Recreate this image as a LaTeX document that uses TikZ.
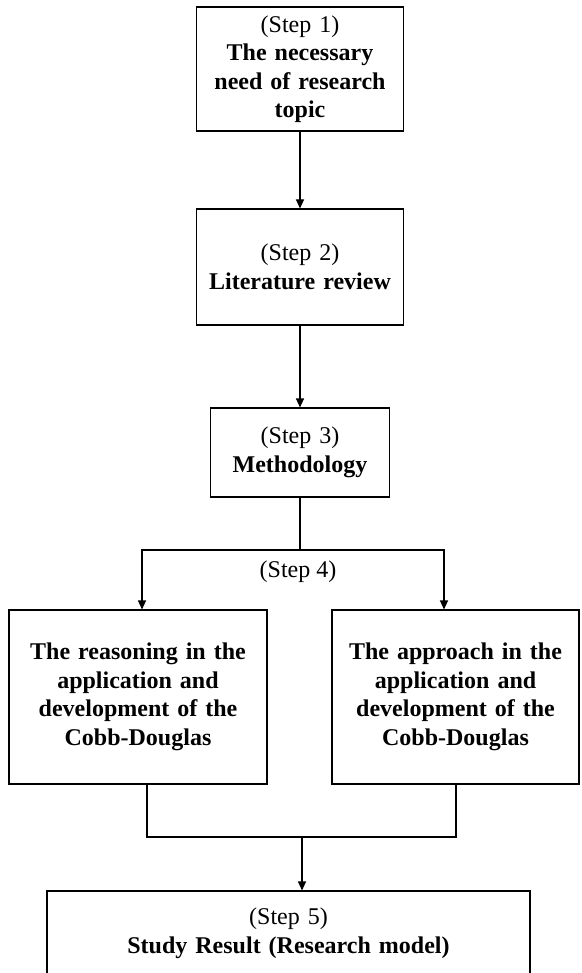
\documentclass[tikz,border=0pt]{standalone}
\usepackage{fontspec}
\setmainfont{Liberation Serif}
\usetikzlibrary{arrows.meta}

\begin{document}
\begin{tikzpicture}[x=1pt, y=-1pt,
    stepbox/.style={draw, line width=1.1pt, align=center, inner sep=0pt,
        font=\fontsize{24}{28.5}\selectfont},
    flow/.style={line width=1.1pt, -{Triangle[length=9pt,width=8pt]}},
    twoway/.style={line width=1.1pt, {Triangle[length=9pt,width=8pt]}-{Triangle[length=9pt,width=8pt]}},
    link/.style={line width=1.1pt}]
    \useasboundingbox (0,0) rectangle (581,973);

    % Draw the step boxes
    \node[stepbox, minimum width=207pt, minimum height=124pt, text width=200pt] (topic) at (300,69)
        {(Step 1)\\ \bfseries The necessary\\ need of research\\ topic};
    \node[stepbox, minimum width=207pt, minimum height=116pt, text width=200pt] (review) at (300,267)
        {(Step 2)\\ \bfseries Literature review};
    \node[stepbox, minimum width=179pt, minimum height=89pt, text width=172pt] (method) at (300,452.5)
        {(Step 3)\\ \bfseries Methodology};

    % Step 4 has two boxes side by side
    \node[font=\fontsize{24}{28.5}\selectfont, inner sep=0pt] (stepfour) at (298,572) {(Step 4)};
    \node[stepbox, minimum width=258pt, minimum height=174pt, text width=250pt] (reasoning) at (138,697)
        {\bfseries The reasoning in the\\ application and\\ development of the\\ Cobb-Douglas};
    \node[stepbox, minimum width=247pt, minimum height=174pt, text width=240pt] (approach) at (455.5,697)
        {\bfseries The approach in the\\ application and\\ development of the\\ Cobb-Douglas};

    % Last box runs past the bottom edge
    \node[stepbox, minimum width=483pt, minimum height=85pt, text width=470pt] (result) at (288.5,933.5)
        {(Step 5)\\ \bfseries Study Result (Research model)};

    % Connectors
    \draw[flow] (topic.south) -- (review.north);
    \draw[flow] (review.south) -- (method.north);

    \coordinate (splitL) at (142,550);
    \coordinate (splitR) at (444,550);
    \draw[link] (method.south) -- (method.south |- splitL);
    \draw[twoway] (splitL |- reasoning.north) -- (splitL) -- (splitR) -- (splitR |- approach.north);

    \coordinate (joinL) at (147,837);
    \coordinate (joinR) at (456,837);
    \coordinate (joinM) at (302,837);
    \draw[link] (joinL |- reasoning.south) -- (joinL) -- (joinR) -- (joinR |- approach.south);
    \draw[flow] (joinM) -- (joinM |- result.north);
\end{tikzpicture}
\end{document}
